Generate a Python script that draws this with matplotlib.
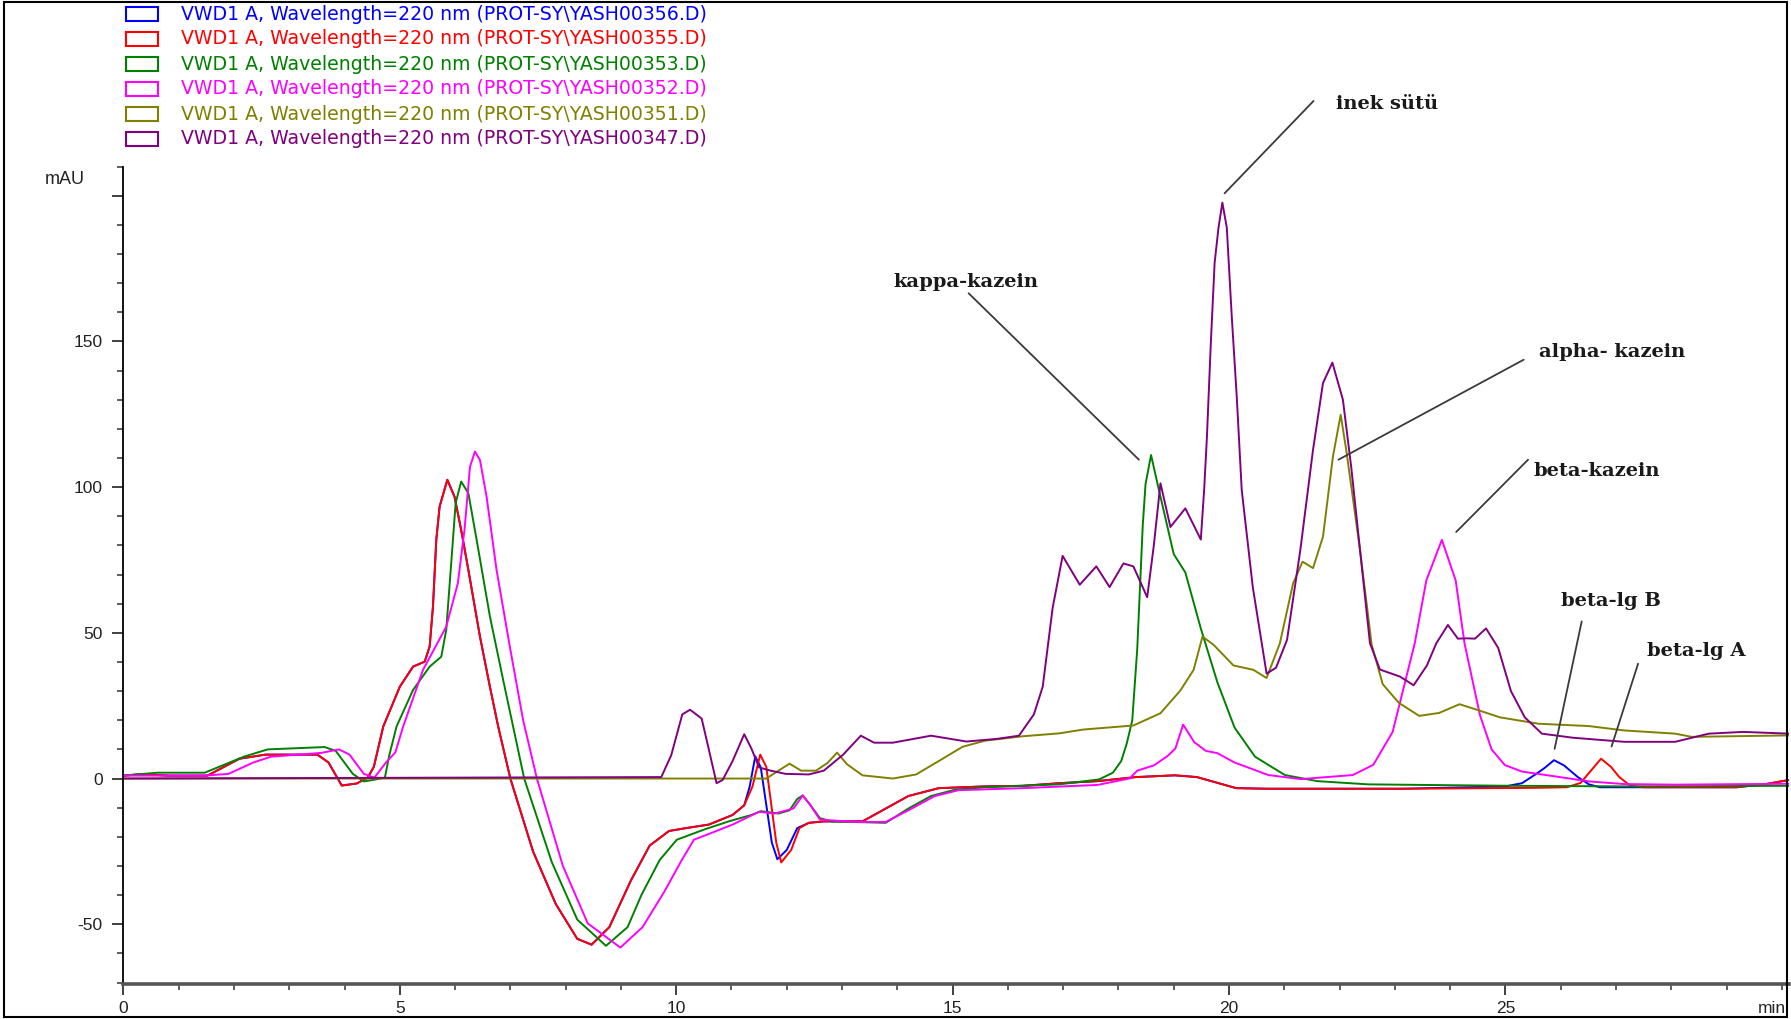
import matplotlib
matplotlib.use("Agg")
import matplotlib.pyplot as plt
from matplotlib.patches import Rectangle
from matplotlib.ticker import MultipleLocator

# ---------------- data ----------------
t_356 = [0, 0.32, 0.82, 1.52, 1.62, 2.1, 2.57, 3.51, 3.71, 3.95, 4.22, 4.42, 4.53, 4.7, 5.0, 5.24, 5.45, 5.54,
         5.6, 5.66, 5.72, 5.86, 5.99, 6.11, 6.24, 6.45, 6.63, 6.78, 7.0, 7.41, 7.82, 8.21, 8.47, 8.79,
         9.18, 9.52, 9.87, 10.18, 10.59, 11.02, 11.23, 11.33, 11.43, 11.53, 11.73, 11.83, 12.0, 12.19, 12.4,
         12.67, 13.37, 13.79, 14.2, 14.75, 15.59, 16.27, 16.93, 17.62, 18.32, 19.02, 19.42, 20.13, 20.69,
         21.53, 23.14, 25.0, 25.3, 25.55, 25.7, 25.88, 26.06, 26.31, 26.51, 26.71, 27.57, 29.18, 29.68, 30.13]
y_356 = [1, 1.5, 1, 1, 2, 6.8, 8.2, 8.2, 5.5, -2.4, -1.7, 0.3, 4, 17.8, 31.5, 38.4, 40.1, 45.3,
         59, 81.9, 93.3, 102.5, 96.7, 85.3, 71.6, 48.7, 31.5, 17.8, 0, -25, -43, -55, -57, -51,
         -35, -23, -18, -17, -15.8, -12.5, -9.2, -2.7, 7.6, 3.8, -22, -27.7, -24.5, -17, -15.2,
         -14.7, -14.7, -10.3, -6, -3.3, -2.7, -2.5, -1.6, -0.9, 0.5, 1.1, 0.5, -3.3, -3.5,
         -3.5, -3.5, -2.7, -1.6, 1.5, 3.5, 6.3, 4.5, 0.5, -2, -3, -3, -3, -2, -0.5]

t_355 = [0, 0.32, 0.82, 1.52, 1.62, 2.1, 2.57, 3.51, 3.71, 3.95, 4.22, 4.42, 4.53, 4.7, 5.0, 5.24, 5.45, 5.54,
         5.6, 5.66, 5.72, 5.86, 5.99, 6.11, 6.24, 6.45, 6.63, 6.78, 7.0, 7.41, 7.82, 8.21, 8.47, 8.79,
         9.18, 9.52, 9.87, 10.18, 10.59, 11.02, 11.23, 11.38, 11.52, 11.63, 11.81, 11.9, 12.08, 12.23, 12.4,
         12.67, 13.37, 13.79, 14.2, 14.75, 15.59, 16.27, 16.93, 17.62, 18.32, 19.02, 19.42, 20.13, 20.69,
         21.53, 23.14, 25.51, 26.11, 26.36, 26.56, 26.73, 26.91, 27.06, 27.26, 27.51, 29.18, 29.68, 30.13]
y_355 = [1, 1.5, 1, 1, 2, 6.8, 8.2, 8.2, 5.5, -2.4, -1.7, 0.3, 4, 17.8, 31.5, 38.4, 40.1, 45.3,
         59, 81.9, 93.3, 102.5, 96.7, 85.3, 71.6, 48.7, 31.5, 17.8, 0, -25, -43, -55, -57, -51,
         -35, -23, -18, -17, -15.8, -12.5, -9.2, -2.7, 8.2, 4, -22, -28.8, -24.5, -17, -15.2,
         -14.7, -14.7, -10.3, -6, -3.3, -2.7, -2.5, -1.6, -0.9, 0.5, 1.1, 0.5, -3.3, -3.5,
         -3.5, -3.5, -3.2, -3, -1.5, 3, 6.8, 4, 0.5, -2.5, -3, -3, -2, -0.5]

t_353 = [0, 0.62, 1.47, 2.18, 2.61, 3.64, 3.84, 4.15, 4.35, 4.54, 4.73, 4.81, 4.94, 5.24, 5.54, 5.75, 5.84,
         5.93, 6.01, 6.11, 6.24, 6.39, 6.63, 6.87, 7.05, 7.25, 7.75, 8.21, 8.73, 9.12, 9.37, 9.7, 10.01,
         10.52, 10.95, 11.36, 11.53, 11.85, 12.05, 12.19, 12.29, 12.43, 12.6, 12.81, 13.79, 14.2, 14.61,
         15.05, 15.59, 16.93, 17.65, 17.9, 18.05, 18.15, 18.25, 18.34, 18.44, 18.49, 18.59, 18.72, 19.0,
         19.21, 19.49, 19.79, 20.1, 20.47, 21.01, 21.6, 22.52, 24.04, 25.15, 27.17, 30.13]
y_353 = [1, 2, 2, 7.5, 10, 10.8, 9.5, 1.6, -1, -0.4, 0.3, 8, 17.8, 30.4, 38.4, 41.8, 51,
         73.9, 94.5, 101.9, 97.9, 81.9, 55.6, 33.8, 17.8, 0, -28.7, -48.4, -57.4, -51, -40, -28, -21,
         -17.4, -14.7, -12.5, -11.2, -12, -10.9, -7, -5.8, -9.2, -13.6, -14.7, -15.2, -10.3, -6,
         -3.8, -3, -2, -0.3, 2.0, 6, 12, 20, 44.5, 87, 101, 111, 100, 77,
         70.7, 51.5, 33, 17.5, 7.5, 1.2, -0.9, -2, -2.3, -2.5, -2.7, -2.5]

t_352 = [0, 1.47, 1.9, 2.35, 2.67, 3.58, 3.9, 4.09, 4.35, 4.54, 4.75, 4.92, 5.06, 5.42, 5.84, 6.05, 6.17,
         6.27, 6.36, 6.45, 6.57, 6.75, 6.99, 7.23, 7.48, 7.95, 8.4, 8.99, 9.39, 9.78, 10.1, 10.32, 10.66,
         11.02, 11.5, 11.78, 12.12, 12.29, 12.43, 12.6, 13.24, 13.79, 14.2, 14.68, 15.11, 16.27, 17.62,
         18.2, 18.34, 18.64, 18.88, 19.03, 19.17, 19.37, 19.58, 19.79, 20.1, 20.71, 21.3, 22.24, 22.61,
         22.96, 23.36, 23.57, 23.85, 24.1, 24.26, 24.54, 24.75, 24.99, 25.3, 25.91, 26.52, 27.15, 28.07,
         30.13]
y_352 = [1, 1, 1.6, 5.5, 7.5, 8.8, 10, 8.2, 1.6, 0.3, 5.5, 9, 17.8, 37.3, 52.1, 67, 85.3,
         107, 112.2, 109.3, 96.7, 71.6, 45.3, 20.1, 0, -30, -49.7, -58, -51, -39, -28, -21, -18.5,
         -15.8, -11.4, -12, -10.3, -5.8, -9.2, -14.1, -14.9, -14.9, -10.9, -6, -4, -3.3, -2.2,
         0, 2.7, 4.5, 7.6, 10.3, 18.5, 12.5, 9.5, 8.7, 5.5, 1.2, -0.2, 1.2, 4.7,
         16, 46.4, 68, 81.9, 68, 46.4, 21.7, 10, 4.6, 2.4, 0.7, -1, -1.9, -2.1,
         -1.8]

t_351 = [0, 11.63, 11.85, 12.05, 12.26, 12.53, 12.74, 12.91, 13.09, 13.37, 13.92, 14.34, 14.75, 15.18, 15.59,
         16.27, 16.93, 17.36, 18.27, 18.76, 19.12, 19.36, 19.52, 19.72, 20.08, 20.44, 20.68, 20.92, 21.16,
         21.33, 21.52, 21.7, 21.88, 22.02, 22.12, 22.37, 22.58, 22.78, 23.07, 23.44, 23.8, 24.17, 24.5,
         24.9, 25.6, 26.51, 27.15, 28.07, 28.37, 30.13]
y_351 = [0, 0, 2.7, 5.1, 2.7, 2.7, 5.4, 8.9, 4.9, 1.1, 0, 1.4, 6, 10.9, 13,
         14.5, 15.5, 16.8, 18.2, 22.4, 30.2, 37.3, 48.7, 45.9, 38.8, 37.3, 34.5, 46.4, 67,
         74.4, 72.2, 83, 110.5, 124.8, 112.8, 78.4, 46, 32.4, 26, 21.5, 22.5, 25.5, 23.5,
         21, 18.8, 18, 16.5, 15.4, 14.3, 14.8]

t_347 = [0, 9.73, 9.91, 10.11, 10.25, 10.46, 10.59, 10.73, 10.84, 11.02, 11.23, 11.36, 11.5, 11.71, 11.98,
         12.4, 12.67, 13.02, 13.34, 13.58, 13.92, 14.61, 15.25, 15.8, 16.2, 16.47, 16.63, 16.81, 16.99,
         17.3, 17.6, 17.84, 18.09, 18.27, 18.52, 18.64, 18.76, 18.94, 19.21, 19.49, 19.55, 19.6, 19.67,
         19.74, 19.81, 19.88, 19.96, 20.05, 20.14, 20.23, 20.43, 20.68, 20.85, 21.05, 21.29, 21.52, 21.7,
         21.87, 22.06, 22.21, 22.37, 22.55, 22.73, 23.09, 23.34, 23.58, 23.75, 23.96, 24.14, 24.3, 24.45,
         24.65, 24.87, 25.1, 25.35, 25.66, 26.22, 27.15, 28.07, 28.68, 29.3, 30.13]
y_347 = [0, 0.5, 8, 22, 23.6, 20.6, 10, -1.6, -0.5, 6, 15.2, 10.3, 3.8, 2.7, 1.6,
         1.4, 2.7, 8.2, 14.7, 12.3, 12.3, 14.7, 12.7, 13.6, 14.7, 22, 31.5, 58.6, 76.4,
         66.5, 72.8, 65.7, 73.8, 72.8, 62.2, 80, 101.3, 86.3, 92.7, 82, 99, 117, 149,
         177, 189, 197.6, 189, 158.5, 131, 99, 65.7, 36, 38, 47.6, 78.4, 112.8, 135.7,
         142.7, 130, 107, 78.4, 46.4, 37.4, 35, 32, 38.8, 46.4, 52.7, 48, 48.1, 48,
         51.5, 44.8, 30, 21, 15.4, 14, 12.6, 12.6, 15.4, 16, 15.4]

series_names = ["VWD1 A, Wavelength=220 nm (PROT-SY\\YASH00356.D)",
                "VWD1 A, Wavelength=220 nm (PROT-SY\\YASH00355.D)",
                "VWD1 A, Wavelength=220 nm (PROT-SY\\YASH00353.D)",
                "VWD1 A, Wavelength=220 nm (PROT-SY\\YASH00352.D)",
                "VWD1 A, Wavelength=220 nm (PROT-SY\\YASH00351.D)",
                "VWD1 A, Wavelength=220 nm (PROT-SY\\YASH00347.D)"]
series_colors = ["#0000ff", "#ff0000", "#008000", "#ff00ff", "#808000", "#800080"]

ann_labels = ["inek sütü", "kappa-kazein", "alpha- kazein", "beta-kazein", "beta-lg B", "beta-lg A"]
ann_text_xy = [(21.94, 231.5), (13.93, 170.5), (25.6, 146.5), (25.5, 105.5), (26.01, 61.0), (27.56, 43.7)]
ann_line_start = [(21.53, 232.5), (15.29, 166.5), (25.33, 143.7), (25.41, 109.4), (26.38, 53.9), (27.4, 39.4)]
ann_line_end = [(19.92, 200.8), (18.37, 109.4), (21.98, 109.4), (24.11, 84.6), (25.89, 10.2), (26.92, 11.0)]

x_ticks = [0, 5, 10, 15, 20, 25]
y_ticks = [-50, 0, 50, 100, 150, 200]
y_tick_labels = ["-50", "0", "50", "100", "150", ""]

# ---------------- figure ----------------
W, H = 1791, 1019
fig = plt.figure(figsize=(W / 100, H / 100), dpi=100)
ax = fig.add_axes([123.4 / W, 35 / H, (1789 - 123.4) / W, (984 - 166.5) / H])

series_t = [t_356, t_355, t_353, t_352, t_351, t_347]
series_y = [y_356, y_355, y_353, y_352, y_351, y_347]
for tt, yy, c in zip(series_t, series_y, series_colors):
    ax.plot(tt, yy, color=c, lw=1.4, solid_joinstyle="round")

ax.set_xlim(0, 30.13)
ax.set_ylim(-70.5, 210)
ax.set_xticks(x_ticks)
ax.set_yticks(y_ticks)
ax.set_yticklabels(y_tick_labels)
ax.xaxis.set_minor_locator(MultipleLocator(1))
ax.yaxis.set_minor_locator(MultipleLocator(10))
for s in ["top", "right"]:
    ax.spines[s].set_visible(False)
ax.spines["left"].set_linewidth(1.3)
ax.spines["bottom"].set_linewidth(2.6)
ax.spines["bottom"].set_color("#555555")
ax.tick_params(axis="both", which="major", length=8, width=1.3, color="#333333",
               labelsize=12.5, labelcolor="#222222")
ax.tick_params(axis="both", which="minor", length=4, width=1.1, color="#333333")
ax.tick_params(axis="y", which="major", pad=7)
ax.tick_params(axis="x", which="major", pad=4)
for lab in ax.get_xticklabels() + ax.get_yticklabels():
    lab.set_fontfamily("Liberation Sans")

ax.annotate("min", xy=(1.0, 0.0), xycoords="axes fraction", xytext=(-2, -12),
            textcoords="offset points", ha="right", va="top",
            fontsize=12.5, family="Liberation Sans", color="#222222")
fig.text(45 / W, 1 - 179 / H, "mAU", ha="left", va="center", fontsize=13,
         family="Liberation Sans", color="#222222")

# annotations
for lab, txy, ls, le in zip(ann_labels, ann_text_xy, ann_line_start, ann_line_end):
    ax.annotate("", xy=le, xytext=ls, annotation_clip=False,
                arrowprops=dict(arrowstyle="-", color="#3a3a3a", lw=1.3, shrinkA=0, shrinkB=0))
    ax.text(txy[0], txy[1], lab, ha="left", va="center", fontsize=14, fontweight="bold",
            family="DejaVu Serif", color="#1a1a1a", clip_on=False)

# legend (top-left)
row_y = [14, 39, 64, 89, 114, 139]
for name, c, ry in zip(series_names, series_colors, row_y):
    fig.add_artist(Rectangle((126 / W, 1 - (ry + 7) / H), 32 / W, 14 / H, transform=fig.transFigure,
                             fill=False, edgecolor=c, lw=1.5))
    fig.text(181 / W, 1 - ry / H, name, ha="left", va="center", fontsize=13.6,
             family="DejaVu Sans", color=c)

# outer frame
fig.add_artist(Rectangle((0.002, 0.002), 0.996, 0.996, transform=fig.transFigure,
                         fill=False, edgecolor="black", lw=1.5))

fig.savefig("out.png", dpi=100)
